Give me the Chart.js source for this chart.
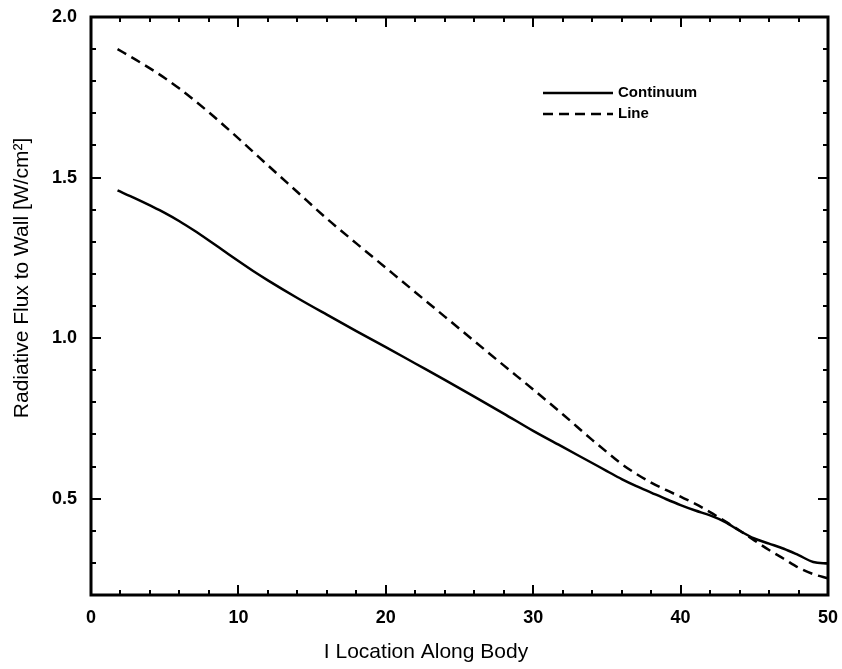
<!DOCTYPE html>
<html>
<head>
<meta charset="utf-8">
<title>Radiative Flux to Wall</title>
<script src="https://cdn.jsdelivr.net/npm/chart.js@4.4.1/dist/chart.umd.min.js"></script>
<style>
  html, body { margin: 0; padding: 0; background: #fff; }
  #wrap { width: 842px; height: 669px; }
</style>
</head>
<body>
<div id="wrap"><canvas id="chart" width="842" height="669"></canvas></div>
<script>
// Location along the body and the two radiative flux components [W/cm^2]
const locations = [1.8, 3, 4, 5, 6, 7, 8, 9, 10, 11, 12, 14, 16, 18, 20, 22, 24, 26, 28, 30, 32, 34, 35, 36, 37, 38, 39, 40, 41, 42, 43, 44, 45, 46, 47, 48, 49, 50];
const continuumFlux = [1.46, 1.435, 1.413, 1.390, 1.364, 1.335, 1.304, 1.272, 1.240, 1.209, 1.180, 1.125, 1.073, 1.022, 0.972, 0.921, 0.870, 0.818, 0.765, 0.711, 0.661, 0.611, 0.586, 0.561, 0.539, 0.519, 0.499, 0.480, 0.463, 0.448, 0.428, 0.400, 0.376, 0.360, 0.344, 0.324, 0.303, 0.298];
const lineFlux = [1.90, 1.868, 1.840, 1.810, 1.777, 1.741, 1.703, 1.663, 1.622, 1.580, 1.538, 1.455, 1.372, 1.295, 1.219, 1.143, 1.067, 0.991, 0.915, 0.84, 0.763, 0.683, 0.645, 0.608, 0.577, 0.550, 0.527, 0.506, 0.484, 0.458, 0.430, 0.401, 0.370, 0.340, 0.313, 0.285, 0.265, 0.252];

const seriesNames = ['Continuum', 'Line'];
const xTickValues = [0, 10, 20, 30, 40, 50];
const yTickValues = [0.5, 1.0, 1.5, 2.0];
const xTitle = 'I Location Along Body';
const yTitle = 'Radiative Flux to Wall [W/cm\u00B2]';

const FONT = '"Liberation Sans", Arial, Helvetica, sans-serif';

const toPoints = (ys) => locations.map((x, i) => ({ x: x, y: ys[i] }));

// Frame, inward tick marks, axis titles and legend
const framePlugin = {
  id: 'frame',
  beforeDraw(chart) {
    const ctx = chart.ctx;
    ctx.save();
    ctx.fillStyle = '#fff';
    ctx.fillRect(0, 0, chart.width, chart.height);
    ctx.restore();
  },
  afterDraw(chart) {
    const ctx = chart.ctx;
    const { left, right, top, bottom } = chart.chartArea;
    const xs = chart.scales.x, ys = chart.scales.y;
    ctx.save();
    ctx.strokeStyle = '#000';
    ctx.lineCap = 'butt';

    // minor and major ticks, drawn inward on all four sides
    ctx.lineWidth = 2;
    for (let v = xs.min; v <= xs.max + 1e-9; v += 2) {
      const px = Math.round(xs.getPixelForValue(v));
      const major = Math.abs(v % 10) < 1e-9;
      const len = major ? 10 : 5;
      ctx.beginPath();
      ctx.moveTo(px, bottom); ctx.lineTo(px, bottom - len);
      ctx.moveTo(px, top); ctx.lineTo(px, top + len);
      ctx.stroke();
    }
    for (let k = 2; k <= 20; k++) {
      const v = k / 10;
      const py = Math.round(ys.getPixelForValue(v));
      const major = k % 5 === 0;
      const len = major ? 10 : 5;
      ctx.beginPath();
      ctx.moveTo(left, py); ctx.lineTo(left + len, py);
      ctx.moveTo(right, py); ctx.lineTo(right - len, py);
      ctx.stroke();
    }

    // box
    ctx.lineWidth = 3;
    ctx.strokeRect(left, top, right - left, bottom - top);

    // axis titles
    ctx.fillStyle = '#000';
    ctx.font = '21px ' + FONT;
    ctx.textAlign = 'center';
    ctx.textBaseline = 'middle';
    ctx.fillText(xTitle, 426, 652);
    ctx.save();
    ctx.translate(22, 278);
    ctx.rotate(-Math.PI / 2);
    ctx.fillText(yTitle, 0, 0);
    ctx.restore();

    // legend
    const legendX0 = 543, legendX1 = 613, legendTextX = 618;
    const rows = [93, 114];
    chart.data.datasets.forEach((ds, i) => {
      const y = rows[i];
      ctx.lineWidth = ds.borderWidth;
      ctx.setLineDash(ds.borderDash || []);
      ctx.beginPath();
      ctx.moveTo(legendX0, y); ctx.lineTo(legendX1, y);
      ctx.stroke();
      ctx.setLineDash([]);
      ctx.font = 'bold 15px ' + FONT;
      ctx.textAlign = 'left';
      ctx.textBaseline = 'middle';
      ctx.fillText(ds.label, legendTextX, y);
    });
    ctx.restore();
  }
};

// invisible tick marks reserve the gap between the frame and the tick labels
const hiddenGrid = (len) => ({
  display: true,
  drawOnChartArea: false,
  drawTicks: true,
  tickLength: len,
  color: 'rgba(0,0,0,0)'
});

new Chart(document.getElementById('chart'), {
  type: 'line',
  data: {
    datasets: [
      {
        label: seriesNames[0],
        data: toPoints(continuumFlux),
        borderColor: '#000',
        borderWidth: 2.5,
        pointRadius: 0,
        cubicInterpolationMode: 'monotone',
        fill: false
      },
      {
        label: seriesNames[1],
        data: toPoints(lineFlux),
        borderColor: '#000',
        borderWidth: 2.5,
        borderDash: [10, 6],
        pointRadius: 0,
        cubicInterpolationMode: 'monotone',
        fill: false
      }
    ]
  },
  options: {
    responsive: false,
    animation: false,
    devicePixelRatio: 1,
    layout: { padding: { left: 0, top: 17, right: 14, bottom: 0 } },
    plugins: {
      legend: { display: false },
      tooltip: { enabled: false }
    },
    scales: {
      x: {
        type: 'linear',
        min: 0,
        max: 50,
        afterBuildTicks: (s) => { s.ticks = xTickValues.map(v => ({ value: v })); },
        afterFit: (s) => { s.height = 74; },
        grid: hiddenGrid(12),
        border: { display: false },
        ticks: {
          color: '#000',
          padding: 0,
          maxRotation: 0,
          font: { family: FONT, size: 18, weight: 'bold' },
          callback: (v) => String(v)
        }
      },
      y: {
        type: 'linear',
        min: 0.2,
        max: 2.0,
        afterBuildTicks: (s) => { s.ticks = yTickValues.map(v => ({ value: v })); },
        afterFit: (s) => { s.width = 91; },
        grid: hiddenGrid(14),
        border: { display: false },
        ticks: {
          color: '#000',
          padding: 0,
          font: { family: FONT, size: 18, weight: 'bold' },
          callback: (v) => Number(v).toFixed(1)
        }
      }
    }
  },
  plugins: [framePlugin]
});
</script>
</body>
</html>
